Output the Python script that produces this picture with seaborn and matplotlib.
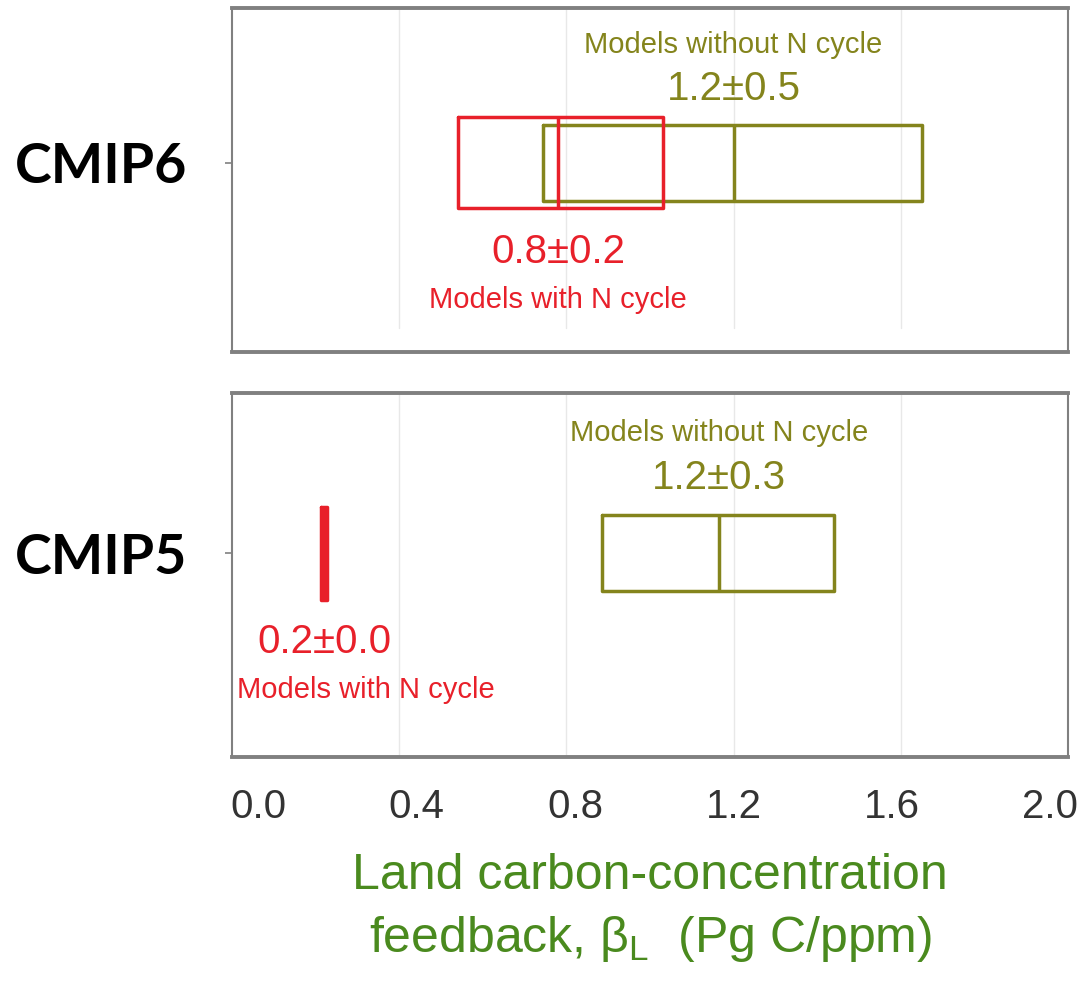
import pandas as pd
import matplotlib
matplotlib.use("Agg")
import matplotlib.pyplot as plt
from matplotlib.transforms import ScaledTranslation
import seaborn as sns

# Land carbon-concentration feedback, box summaries per model ensemble
runs = ["CMIP6", "CMIP5"]
with_n_q1 = [0.54, 0.212]
with_n_median = [0.78, 0.22]
with_n_q3 = [1.03, 0.228]
without_n_q1 = [0.745, 0.885]
without_n_median = [1.20, 1.165]
without_n_q3 = [1.65, 1.44]
with_n_summary = ["0.8±0.2", "0.2±0.0"]
without_n_summary = ["1.2±0.5", "1.2±0.3"]
with_n_name = "Models with N cycle"
without_n_name = "Models without N cycle"
x_ticks = [0.0, 0.4, 0.8, 1.2, 1.6, 2.0]
x_label = "Land carbon-concentration\nfeedback, β$_{\\mathrm{L}}$  (Pg C/ppm)"

RED = "#e8202a"
OLIVE = "#84841c"
GREEN = "#4a8a1e"
FRAME = "#808080"
GRID = "#e8e8e8"

sns.set_theme(style="white")
plt.rcParams["font.family"] = ["Liberation Sans", "DejaVu Sans"]
plt.rcParams["mathtext.fontset"] = "custom"
plt.rcParams["mathtext.rm"] = "Liberation Sans"


def box_rows(run, group, q1, med, q3):
    # five samples whose quartiles are exactly q1 / median / q3
    return [{"run": run, "group": group, "value": v} for v in (q1, q1, med, q3, q3)]


rows = []
for i, run in enumerate(runs):
    rows += box_rows(run, "with", with_n_q1[i], with_n_median[i], with_n_q3[i])
    rows += box_rows(run, "without", without_n_q1[i], without_n_median[i], without_n_q3[i])
df = pd.DataFrame(rows)

fig = plt.figure(figsize=(10.81, 9.81), dpi=100)
axes = [
    fig.add_axes([0.2146, 0.6412, 0.7734, 0.3507]),
    fig.add_axes([0.2146, 0.2283, 0.7734, 0.3710]),
]

# per-panel layout: box heights, vertical centre, label heights (axes fraction),
# and where the vertical grid lines start
layout = [
    dict(w_red=0.265, w_olive=0.22, centre=0.45,
         y_name_top=0.893, y_val_top=0.765, y_val_bot=0.292, y_name_bot=0.15,
         red_name_dx=0, grid_from=0.07),
    dict(w_red=0.255, w_olive=0.21, centre=0.44,
         y_name_top=0.89, y_val_top=0.767, y_val_bot=0.316, y_name_bot=0.183,
         red_name_dx=30, grid_from=0.0),
]

for i, (ax, run, lay) in enumerate(zip(axes, runs, layout)):
    sub = df[df["run"] == run]
    common = dict(x="value", y="run", orient="h", fill=False, whis=0,
                  showcaps=False, showfliers=False, ax=ax)
    sns.boxplot(data=sub[sub["group"] == "without"], color=OLIVE,
                width=lay["w_olive"], linewidth=2.5, **common)
    sns.boxplot(data=sub[sub["group"] == "with"], color=RED,
                width=lay["w_red"], linewidth=2.5, **common)

    ax.set_xlim(0, 2.0)
    ax.set_ylim(1 - lay["centre"], -lay["centre"])
    ax.set_xticks(x_ticks)
    ax.set_ylabel("")
    ax.set_xlabel("")
    for t in x_ticks[1:-1]:
        ax.axvline(t, ymin=lay["grid_from"], ymax=1, color=GRID, linewidth=1.0, zorder=0)

    for side, sp in ax.spines.items():
        sp.set_color(FRAME)
        sp.set_linewidth(2.8 if side in ("top", "bottom") else 1.5)

    ax.tick_params(axis="y", left=True, length=5, width=1.2, color=FRAME, pad=27)
    for lbl in ax.get_yticklabels():
        lbl.set_fontfamily(["Lato", "DejaVu Sans"])
        lbl.set_fontweight("bold")
        lbl.set_fontsize(40)
        lbl.set_color("black")

    tr = ax.get_xaxis_transform()
    ax.text(without_n_median[i], lay["y_name_top"], without_n_name, transform=tr,
            ha="center", va="center", color=OLIVE, fontsize=21)
    ax.text(without_n_median[i], lay["y_val_top"], without_n_summary[i], transform=tr,
            ha="center", va="center", color=OLIVE, fontsize=29)
    ax.text(with_n_median[i], lay["y_val_bot"], with_n_summary[i], transform=tr,
            ha="center", va="center", color=RED, fontsize=29)
    ax.annotate(with_n_name, xy=(with_n_median[i], lay["y_name_bot"]), xycoords=tr,
                xytext=(lay["red_name_dx"], 0), textcoords="offset points",
                ha="center", va="center", color=RED, fontsize=21)

axes[0].tick_params(axis="x", bottom=False, labelbottom=False)
axes[1].tick_params(axis="x", bottom=False, labelsize=29, labelcolor="#333333", pad=16)
axes[1].set_xticklabels([f"{t:.1f}" for t in x_ticks])
# the scale labels sit on a slightly tighter pitch than the grid, centred on 1.2
for t, lbl in zip(x_ticks, axes[1].get_xticklabels()):
    shift = -(t - 1.2) * 0.22
    lbl.set_transform(lbl.get_transform() + ScaledTranslation(shift, 0, fig.dpi_scale_trans))
axes[1].set_xlabel(x_label, fontsize=36, color=GREEN, labelpad=20, linespacing=1.38)

fig.savefig("out.png", dpi=100, facecolor="white")
